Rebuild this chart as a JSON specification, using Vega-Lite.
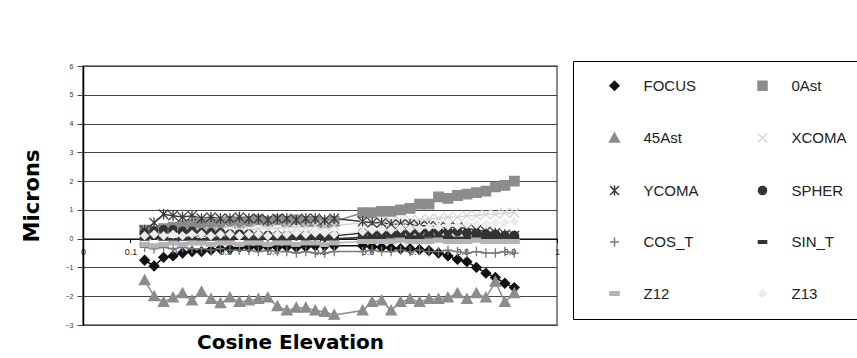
{
  "$schema": "https://vega.github.io/schema/vega-lite/v6.json",
  "width": 474,
  "height": 259,
  "autosize": {"type": "none"},
  "padding": {"left": 83, "top": 66, "right": 300, "bottom": 33},
  "background": "white",
  "config": {"view": {"stroke": "#666", "strokeWidth": 1.5}, "font": "Liberation Sans", "legend": {"strokeWidth": 1}},
  "data": {"values": [
    {"x":0.13,"FOCUS":-0.75,"0Ast":0.3,"45Ast":-1.45,"XCOMA":0.05,"YCOMA":0.3,"SPHER":0.2,"COS_T":-0.3,"SIN_T":0,"Z12":-0.2,"Z13":0.1},
    {"x":0.15,"FOCUS":-0.95,"0Ast":0.25,"45Ast":-2.0,"XCOMA":0.1,"YCOMA":0.55,"SPHER":0.25,"COS_T":-0.35,"SIN_T":0.05,"Z12":-0.25,"Z13":0.15},
    {"x":0.17,"FOCUS":-0.65,"0Ast":0.35,"45Ast":-2.2,"XCOMA":0.1,"YCOMA":0.85,"SPHER":0.3,"COS_T":-0.3,"SIN_T":0,"Z12":-0.2,"Z13":0.1},
    {"x":0.19,"FOCUS":-0.6,"0Ast":0.4,"45Ast":-2.05,"XCOMA":0.15,"YCOMA":0.8,"SPHER":0.3,"COS_T":-0.35,"SIN_T":-0.05,"Z12":-0.15,"Z13":0.15},
    {"x":0.21,"FOCUS":-0.5,"0Ast":0.45,"45Ast":-1.9,"XCOMA":0.15,"YCOMA":0.75,"SPHER":0.25,"COS_T":-0.3,"SIN_T":0,"Z12":-0.2,"Z13":0.1},
    {"x":0.23,"FOCUS":-0.45,"0Ast":0.5,"45Ast":-2.15,"XCOMA":0.2,"YCOMA":0.8,"SPHER":0.25,"COS_T":-0.35,"SIN_T":0,"Z12":-0.15,"Z13":0.15},
    {"x":0.25,"FOCUS":-0.45,"0Ast":0.55,"45Ast":-1.85,"XCOMA":0.2,"YCOMA":0.7,"SPHER":0.2,"COS_T":-0.35,"SIN_T":-0.05,"Z12":-0.15,"Z13":0.15},
    {"x":0.27,"FOCUS":-0.4,"0Ast":0.5,"45Ast":-2.1,"XCOMA":0.25,"YCOMA":0.75,"SPHER":0.2,"COS_T":-0.4,"SIN_T":0,"Z12":-0.2,"Z13":0.1},
    {"x":0.29,"FOCUS":-0.35,"0Ast":0.55,"45Ast":-2.25,"XCOMA":0.25,"YCOMA":0.7,"SPHER":0.2,"COS_T":-0.35,"SIN_T":0,"Z12":-0.15,"Z13":0.15},
    {"x":0.31,"FOCUS":-0.35,"0Ast":0.6,"45Ast":-2.05,"XCOMA":0.3,"YCOMA":0.7,"SPHER":0.15,"COS_T":-0.4,"SIN_T":0,"Z12":-0.15,"Z13":0.15},
    {"x":0.33,"FOCUS":-0.3,"0Ast":0.55,"45Ast":-2.2,"XCOMA":0.3,"YCOMA":0.75,"SPHER":0.15,"COS_T":-0.4,"SIN_T":0.05,"Z12":-0.2,"Z13":0.1},
    {"x":0.35,"FOCUS":-0.3,"0Ast":0.6,"45Ast":-2.15,"XCOMA":0.3,"YCOMA":0.7,"SPHER":0.15,"COS_T":-0.4,"SIN_T":0,"Z12":-0.15,"Z13":0.15},
    {"x":0.37,"FOCUS":-0.3,"0Ast":0.65,"45Ast":-2.1,"XCOMA":0.35,"YCOMA":0.7,"SPHER":0.1,"COS_T":-0.45,"SIN_T":0,"Z12":-0.15,"Z13":0.15},
    {"x":0.39,"FOCUS":-0.28,"0Ast":0.6,"45Ast":-2.05,"XCOMA":0.35,"YCOMA":0.65,"SPHER":0.1,"COS_T":-0.4,"SIN_T":0.05,"Z12":-0.2,"Z13":0.1},
    {"x":0.41,"FOCUS":-0.3,"0Ast":0.65,"45Ast":-2.35,"XCOMA":0.35,"YCOMA":0.7,"SPHER":0.1,"COS_T":-0.45,"SIN_T":0,"Z12":-0.15,"Z13":0.15},
    {"x":0.43,"FOCUS":-0.28,"0Ast":0.6,"45Ast":-2.5,"XCOMA":0.4,"YCOMA":0.7,"SPHER":0.1,"COS_T":-0.45,"SIN_T":0,"Z12":-0.15,"Z13":0.15},
    {"x":0.45,"FOCUS":-0.3,"0Ast":0.65,"45Ast":-2.4,"XCOMA":0.4,"YCOMA":0.65,"SPHER":0.1,"COS_T":-0.5,"SIN_T":0.05,"Z12":-0.2,"Z13":0.2},
    {"x":0.47,"FOCUS":-0.28,"0Ast":0.6,"45Ast":-2.4,"XCOMA":0.4,"YCOMA":0.7,"SPHER":0.1,"COS_T":-0.45,"SIN_T":0,"Z12":-0.15,"Z13":0.15},
    {"x":0.49,"FOCUS":-0.25,"0Ast":0.6,"45Ast":-2.5,"XCOMA":0.45,"YCOMA":0.7,"SPHER":0.1,"COS_T":-0.5,"SIN_T":0.05,"Z12":-0.15,"Z13":0.2},
    {"x":0.51,"FOCUS":-0.25,"0Ast":0.55,"45Ast":-2.55,"XCOMA":0.45,"YCOMA":0.65,"SPHER":0.1,"COS_T":-0.5,"SIN_T":0,"Z12":-0.2,"Z13":0.2},
    {"x":0.53,"FOCUS":-0.25,"0Ast":0.6,"45Ast":-2.65,"XCOMA":0.45,"YCOMA":0.7,"SPHER":0.1,"COS_T":-0.45,"SIN_T":0,"Z12":-0.15,"Z13":0.15},
    {"x":0.59,"FOCUS":-0.25,"0Ast":0.9,"45Ast":-2.5,"XCOMA":0.55,"YCOMA":0.6,"SPHER":0.2,"COS_T":-0.45,"SIN_T":0.05,"Z12":-0.1,"Z13":0.25},
    {"x":0.61,"FOCUS":-0.28,"0Ast":0.9,"45Ast":-2.2,"XCOMA":0.55,"YCOMA":0.55,"SPHER":0.2,"COS_T":-0.4,"SIN_T":0.05,"Z12":-0.1,"Z13":0.3},
    {"x":0.63,"FOCUS":-0.3,"0Ast":0.95,"45Ast":-2.15,"XCOMA":0.6,"YCOMA":0.55,"SPHER":0.2,"COS_T":-0.45,"SIN_T":0.05,"Z12":-0.1,"Z13":0.3},
    {"x":0.65,"FOCUS":-0.32,"0Ast":0.95,"45Ast":-2.5,"XCOMA":0.6,"YCOMA":0.5,"SPHER":0.2,"COS_T":-0.45,"SIN_T":0.1,"Z12":-0.1,"Z13":0.3},
    {"x":0.67,"FOCUS":-0.35,"0Ast":1.0,"45Ast":-2.2,"XCOMA":0.6,"YCOMA":0.5,"SPHER":0.2,"COS_T":-0.4,"SIN_T":0.05,"Z12":-0.05,"Z13":0.35},
    {"x":0.69,"FOCUS":-0.35,"0Ast":1.05,"45Ast":-2.1,"XCOMA":0.65,"YCOMA":0.5,"SPHER":0.25,"COS_T":-0.45,"SIN_T":0.05,"Z12":-0.1,"Z13":0.35},
    {"x":0.71,"FOCUS":-0.38,"0Ast":1.2,"45Ast":-2.2,"XCOMA":0.65,"YCOMA":0.45,"SPHER":0.25,"COS_T":-0.4,"SIN_T":0.05,"Z12":-0.1,"Z13":0.35},
    {"x":0.73,"FOCUS":-0.42,"0Ast":1.2,"45Ast":-2.1,"XCOMA":0.7,"YCOMA":0.45,"SPHER":0.25,"COS_T":-0.45,"SIN_T":0.1,"Z12":-0.1,"Z13":0.4},
    {"x":0.75,"FOCUS":-0.5,"0Ast":1.45,"45Ast":-2.1,"XCOMA":0.7,"YCOMA":0.4,"SPHER":0.25,"COS_T":-0.45,"SIN_T":0.05,"Z12":-0.05,"Z13":0.4},
    {"x":0.77,"FOCUS":-0.6,"0Ast":1.4,"45Ast":-2.05,"XCOMA":0.75,"YCOMA":0.4,"SPHER":0.25,"COS_T":-0.4,"SIN_T":0.05,"Z12":-0.1,"Z13":0.45},
    {"x":0.79,"FOCUS":-0.72,"0Ast":1.5,"45Ast":-1.9,"XCOMA":0.75,"YCOMA":0.4,"SPHER":0.25,"COS_T":-0.45,"SIN_T":0,"Z12":-0.1,"Z13":0.45},
    {"x":0.81,"FOCUS":-0.8,"0Ast":1.55,"45Ast":-2.1,"XCOMA":0.8,"YCOMA":0.35,"SPHER":0.2,"COS_T":-0.5,"SIN_T":0,"Z12":-0.1,"Z13":0.5},
    {"x":0.83,"FOCUS":-1.0,"0Ast":1.6,"45Ast":-1.9,"XCOMA":0.8,"YCOMA":0.3,"SPHER":0.2,"COS_T":-0.45,"SIN_T":0.05,"Z12":-0.05,"Z13":0.5},
    {"x":0.85,"FOCUS":-1.2,"0Ast":1.65,"45Ast":-2.05,"XCOMA":0.85,"YCOMA":0.25,"SPHER":0.15,"COS_T":-0.5,"SIN_T":0,"Z12":-0.1,"Z13":0.5},
    {"x":0.87,"FOCUS":-1.35,"0Ast":1.8,"45Ast":-1.5,"XCOMA":0.85,"YCOMA":0.2,"SPHER":0.15,"COS_T":-0.5,"SIN_T":0.05,"Z12":-0.1,"Z13":0.55},
    {"x":0.89,"FOCUS":-1.55,"0Ast":1.85,"45Ast":-2.2,"XCOMA":0.9,"YCOMA":0.15,"SPHER":0.1,"COS_T":-0.45,"SIN_T":0,"Z12":-0.1,"Z13":0.55},
    {"x":0.91,"FOCUS":-1.7,"0Ast":2.0,"45Ast":-1.9,"XCOMA":0.9,"YCOMA":0.1,"SPHER":0.1,"COS_T":-0.5,"SIN_T":0,"Z12":-0.1,"Z13":0.6}
  ]},
  "transform": [
    {"fold": ["FOCUS","0Ast","45Ast","XCOMA","YCOMA","SPHER","COS_T","SIN_T","Z12","Z13"], "as": ["series","value"]}
  ],
  "encoding": {
    "x": {
      "field": "x", "type": "quantitative",
      "scale": {"domain": [0, 1], "nice": false, "zero": false},
      "axis": {
        "values": [0,0.1,0.2,0.3,0.4,0.5,0.6,0.7,0.8,0.9,1],
        "format": "~g", "offset": -86.4, "grid": false,
        "domainColor": "#000", "domainWidth": 1.2,
        "tickColor": "#000", "tickSize": 4, "tickWidth": 1,
        "labelFontSize": 9, "labelColor": "#222", "labelPadding": 5, "labelFlush": false,
        "title": "Cosine Elevation", "titleFont": "DejaVu Sans", "titleFontSize": 20,
        "titleFontWeight": "bold", "titleColor": "#000",
        "titleX": 207, "titleY": 104, "titleBaseline": "middle", "titleAlign": "center"
      }
    },
    "y": {
      "field": "value", "type": "quantitative",
      "scale": {"domain": [-3, 6], "nice": false, "zero": false},
      "axis": {
        "values": [-3,-2,-1,0,1,2,3,4,5,6],
        "grid": true, "gridColor": "#444", "gridWidth": 1.2,
        "domainColor": "#000", "domainWidth": 1.5,
        "tickColor": "#444", "tickSize": 6, "tickWidth": 1,
        "labelFontSize": 7, "labelColor": "#333", "labelPadding": 4,
        "title": "Microns", "titleFont": "DejaVu Sans", "titleFontSize": 21,
        "titleFontWeight": "bold", "titleColor": "#000",
        "titleX": -51, "titleY": 129.5, "titleBaseline": "middle", "titleAlign": "center", "titleAngle": 270
      }
    },
    "color": {
      "field": "series", "type": "nominal",
      "scale": {
        "domain": ["FOCUS","0Ast","45Ast","XCOMA","YCOMA","SPHER","COS_T","SIN_T","Z12","Z13"],
        "range": ["#111111","#8c8c8c","#8c8c8c","#d6d6d6","#3a3a3a","#333333","#7a7a7a","#333333","#b4b4b4","#ececec"]
      },
      "legend": {
        "orient": "none", "legendX": 490, "legendY": -5, "columns": 2, "direction": "horizontal", "title": null,
        "strokeColor": "#000", "fillColor": "white", "padding": 17,
        "rowPadding": 35.5, "columnPadding": 39,
        "symbolSize": 81, "symbolStrokeWidth": 1.5, "symbolOffset": 17, "labelOffset": 21.5,
        "labelFont": "Liberation Sans", "labelFontSize": 15, "labelColor": "#222", "labelLimit": 200
      }
    }
  },
  "layer": [
    {"mark": {"type": "line", "strokeWidth": 1.5}},
    {
      "mark": {"type": "point", "filled": true, "size": 90, "strokeWidth": 1.3, "opacity": 1},
      "encoding": {
        "shape": {
          "field": "series", "type": "nominal",
          "scale": {
            "domain": ["FOCUS","0Ast","45Ast","XCOMA","YCOMA","SPHER","COS_T","SIN_T","Z12","Z13"],
            "range": [
              "M0,-1L1,0L0,1L-1,0Z",
              "M-1,-1H1V1H-1Z",
              "M0,-1.1L1.1,0.9H-1.1Z",
              "M-1,-1L1,1M-1,1L1,-1",
              "M-1,-1L1,1M-1,1L1,-1M0,-1.1V1.1",
              "M-0.9,0A0.9,0.9,0,1,1,0.9,0A0.9,0.9,0,1,1,-0.9,0Z",
              "M-1,0H1M0,-1V1",
              "M-0.9,-0.3H0.9V0.3H-0.9Z",
              "M-1,-0.4H1V0.4H-1Z",
              "M0,-0.8L0.8,0L0,0.8L-0.8,0Z"
            ]
          },
          "legend": null
        },
        "stroke": {
          "field": "series", "type": "nominal",
          "scale": {
            "domain": ["FOCUS","0Ast","45Ast","XCOMA","YCOMA","SPHER","COS_T","SIN_T","Z12","Z13"],
            "range": ["#111111","#8c8c8c","#8c8c8c","#d6d6d6","#3a3a3a","#333333","#7a7a7a","#333333","#b4b4b4","#ececec"]
          },
          "legend": null
        }
      }
    }
  ]
}
